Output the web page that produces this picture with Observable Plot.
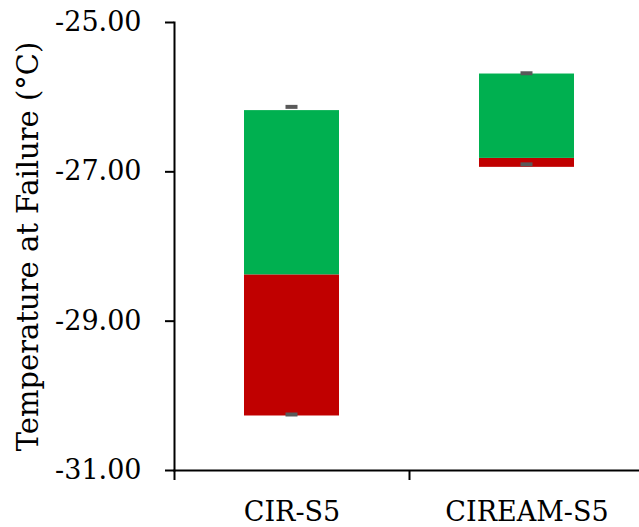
<!DOCTYPE html>
<html>
<head>
<meta charset="utf-8">
<script src="https://cdn.jsdelivr.net/npm/d3@7"></script>
<script src="https://cdn.jsdelivr.net/npm/@observablehq/plot@0.6"></script>
<style>
  html, body { margin: 0; padding: 0; background: #fff; }
  #chart svg { display: block; }
</style>
</head>
<body>
<div id="chart"></div>
<script>
// Mixtures and their failure-temperature ranges (°C)
const mixes = ["CIR-S5", "CIREAM-S5"];
const lowerBound = [-30.27, -26.94];   // bottom of red segment
const meanValue = [-28.38, -26.82];    // red / green split
const upperBound = [-26.18, -25.69];   // top of green segment
const errLow = [-30.25, -26.90];       // lower error cap
const errHigh = [-26.13, -25.68];      // upper error cap
const yTicks = [-25, -27, -29, -31];
const yTitle = "Temperature at Failure (°C)";

const rows = mixes.map((m, i) => ({
  mix: m, lo: lowerBound[i], mid: meanValue[i], hi: upperBound[i],
  eLo: errLow[i], eHi: errHigh[i]
}));

const bandW = 235;
const barInset = (bandW - 95) / 2;
const capInset = (bandW - 12) / 2;
const font = "DejaVu Serif";

const chart = Plot.plot({
  width: 639,
  height: 527,
  marginLeft: 174,
  marginTop: 22,
  marginBottom: 57,
  marginRight: 0,
  style: {fontFamily: font, fontSize: "27px", color: "#000", background: "#fff"},
  x: {domain: mixes, range: [174, 174 + 2 * bandW], padding: 0},
  y: {domain: [-31, -25]},
  marks: [
    Plot.barY(rows, {x: "mix", y1: "lo", y2: "mid", fill: "#C00000", insetLeft: barInset, insetRight: barInset}),
    Plot.barY(rows, {x: "mix", y1: "mid", y2: "hi", fill: "#00B050", insetLeft: barInset, insetRight: barInset}),
    Plot.tickY(rows, {x: "mix", y: "eHi", stroke: "#595959", strokeWidth: 4, insetLeft: capInset, insetRight: capInset}),
    Plot.tickY(rows, {x: "mix", y: "eLo", stroke: "#595959", strokeWidth: 4, insetLeft: capInset, insetRight: capInset}),
    Plot.frame({anchor: "left", stroke: "#000", strokeWidth: 2}),
    Plot.frame({anchor: "bottom", stroke: "#000", strokeWidth: 2}),
    // category boundary ticks below the x axis
    Plot.ruleX(mixes, {x: d => d, dx: -bandW / 2, y1: -31, y2: -31 - 10 / 74.67, stroke: "#000", strokeWidth: 2}),
    Plot.axisY({
      ticks: yTicks, tickFormat: d => d.toFixed(2), tickSize: 9, tickPadding: 24,
      strokeWidth: 2, fontSize: 27, label: null
    }),
    Plot.text([yTitle], {
      text: d => d, frameAnchor: "left", dx: -146, rotate: -90,
      textAnchor: "middle", lineAnchor: "middle",
      fontSize: 29, fontFamily: font, fill: "#000"
    }),
    Plot.axisX({tickSize: 0, tickPadding: 31, fontSize: 27, label: null})
  ]
});
document.getElementById("chart").append(chart);
</script>
</body>
</html>
